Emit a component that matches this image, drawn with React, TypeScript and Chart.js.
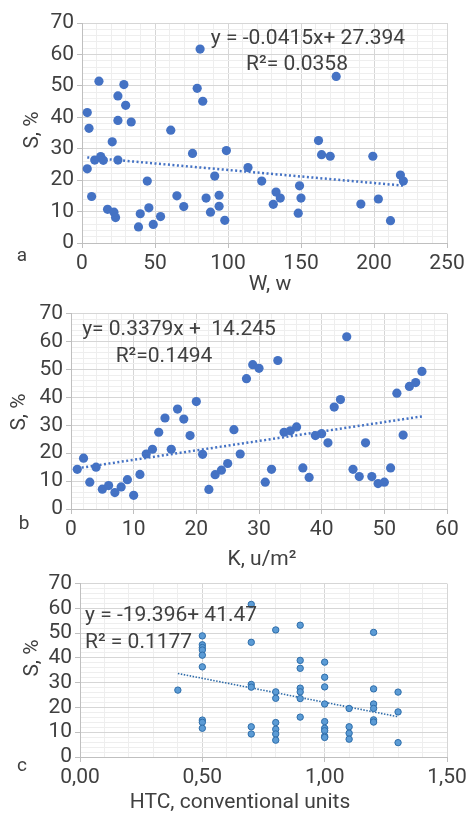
import React, { useEffect, useRef } from 'react';
import { Chart, registerables } from 'chart.js';

Chart.register(...registerables);

// ---------- Data ----------
// Panel a: S (%) vs W (w)
const wValues = [3.6, 4.8, 3.6, 6.6, 8.7, 11.6, 12.8, 14.6, 17.5, 20.7, 21.9, 23.0, 24.6, 24.6, 24.6, 28.7, 29.9, 33.7, 38.7, 39.9, 44.7, 45.8, 48.8, 53.8, 60.8, 65.0, 69.7, 75.7, 78.9, 80.9, 82.7, 85.0, 88.0, 90.9, 93.9, 93.9, 97.8, 98.9, 113.7, 123.1, 131.0, 132.9, 135.8, 148.1, 149.0, 150.0, 162.0, 164.1, 170.0, 174.1, 191.0, 199.2, 203.0, 211.3, 218.1, 220.1];
const sByW = [41.5, 36.5, 23.6, 14.8, 26.4, 51.5, 27.5, 26.3, 10.7, 32.2, 9.8, 8.1, 46.8, 39.0, 26.4, 50.4, 43.8, 38.5, 5.1, 9.3, 19.7, 11.2, 5.9, 8.4, 35.9, 15.0, 11.6, 28.5, 49.2, 61.7, 45.1, 14.3, 9.8, 21.3, 15.2, 11.7, 7.2, 29.4, 24.0, 19.7, 12.3, 16.2, 14.3, 9.5, 18.2, 14.3, 32.6, 28.1, 27.6, 53.0, 12.4, 27.6, 14.0, 7.1, 21.6, 19.7];
const trendWx = [3.6, 220];
const trendWy = [27.24, 18.26];

// Panel b: S (%) vs K (u/m2)
const kValues = [1, 2, 3, 4, 5, 6, 7, 8, 9, 10, 11, 12, 13, 14, 15, 16, 17, 18, 19, 20, 21, 22, 23, 24, 25, 26, 27, 28, 29, 30, 31, 32, 33, 34, 35, 36, 37, 38, 39, 40, 41, 42, 43, 44, 45, 46, 47, 48, 49, 50, 51, 52, 53, 54, 55, 56];
const sByK = [14.2, 18.2, 9.6, 15.0, 7.1, 8.4, 5.9, 7.9, 10.5, 4.9, 12.4, 19.7, 21.4, 27.5, 32.6, 21.4, 35.8, 32.2, 26.3, 38.5, 19.6, 7.0, 12.3, 13.9, 16.3, 28.4, 19.7, 46.7, 51.7, 50.4, 9.6, 14.2, 53.2, 27.5, 28.0, 29.4, 14.7, 11.3, 26.3, 27.0, 23.7, 36.5, 39.2, 61.7, 14.2, 11.6, 23.7, 11.6, 9.1, 9.6, 14.7, 41.5, 26.5, 43.9, 45.3, 49.3];
const trendKx = [1, 56];
const trendKy = [14.58, 33.17];

// Panel c: S (%) vs HTC
const htcValues = [0.4,
  0.5, 0.5, 0.5, 0.5, 0.5, 0.5, 0.5, 0.5, 0.5,
  0.7, 0.7, 0.7, 0.7, 0.7, 0.7,
  0.8, 0.8, 0.8, 0.8, 0.8, 0.8, 0.8,
  0.9, 0.9, 0.9, 0.9, 0.9, 0.9, 0.9,
  1.0, 1.0, 1.0, 1.0, 1.0, 1.0, 1.0, 1.0, 1.0,
  1.1, 1.1, 1.1, 1.1,
  1.2, 1.2, 1.2, 1.2, 1.2, 1.2,
  1.3, 1.3, 1.3];
const sByHtc = [27.0,
  48.9, 45.3, 44.2, 43.2, 41.1, 36.4, 14.9, 14.0, 11.6,
  61.6, 46.3, 29.3, 28.2, 12.2, 9.3,
  51.3, 26.3, 23.7, 13.9, 11.2, 9.3, 6.8,
  53.2, 39.0, 35.8, 27.8, 26.3, 23.6, 16.1,
  38.3, 32.2, 28.3, 21.4, 14.3, 11.6, 10.6, 8.4, 7.9,
  19.6, 12.2, 9.6, 7.2,
  50.3, 27.5, 21.4, 19.6, 15.0, 14.1,
  26.2, 18.2, 5.8];
const trendHx = [0.4, 1.3];
const trendHy = [33.71, 16.26];

const yAxisTitle = 'S, %';
const eqA = ['y = -0.0415x+ 27.394', 'R²= 0.0358'];
const eqB = ['y= 0.3379x +  14.245', 'R²=0.1494'];
const eqC = ['y = -19.396+ 41.47', 'R² = 0.1177'];

// ---------- Helpers ----------
const FONT = 'Roboto';
const TEXT = '#404040';

const isMajor = (v: number, major: number) => {
  const r = v / major;
  return Math.abs(r - Math.round(r)) < 1e-6;
};

type Note = { text: string; x: number; y: number; size: number; align?: CanvasTextAlign; rotate?: boolean };

const notesPlugin = {
  id: 'notes',
  afterDraw(chart: any, _args: any, opts: any) {
    const ctx = chart.ctx as CanvasRenderingContext2D;
    (opts.items || []).forEach((n: Note) => {
      ctx.save();
      ctx.font = `${n.size}px ${FONT}`;
      ctx.fillStyle = TEXT;
      ctx.textAlign = n.align || 'center';
      ctx.textBaseline = 'middle';
      ctx.translate(n.x, n.y);
      if (n.rotate) ctx.rotate(-Math.PI / 2);
      ctx.fillText(n.text, 0, 0);
      ctx.restore();
    });
  },
};

function axis(min: number, max: number, minor: number, major: number, fmt: (v: number) => string, fit: (s: any) => void) {
  return {
    type: 'linear',
    min,
    max,
    afterFit: fit,
    ticks: {
      stepSize: minor,
      autoSkip: false,
      maxRotation: 0,
      padding: 3,
      color: TEXT,
      font: { family: FONT, size: 21 },
      callback: (v: number) => (isMajor(v, major) ? fmt(v) : ''),
    },
    grid: {
      color: (c: any) => (c.tick && isMajor(c.tick.value, major) ? '#d6d6d6' : '#eeeeee'),
      tickColor: (c: any) => (c.tick && isMajor(c.tick.value, major) ? '#bfbfbf' : 'rgba(0,0,0,0)'),
      tickLength: 5,
      lineWidth: 1,
    },
    border: { color: '#bfbfbf', width: 1 },
  };
}

type Spec = {
  xs: number[]; ys: number[]; tx: number[]; ty: number[];
  xMin: number; xMax: number; xMinor: number; xMajor: number; xFmt: (v: number) => string;
  padTop: number; padRight: number; yWidth: number; xHeight: number;
  radius: number; pointColor: string; pointBorder: string; pointBorderWidth: number;
  trendColor: string; trendWidth: number; trendDash: number[];
  notes: Note[];
};

function makeConfig(p: Spec): any {
  return {
    type: 'scatter',
    data: {
      datasets: [
        {
          data: p.xs.map((x, i) => ({ x, y: p.ys[i] })),
          backgroundColor: p.pointColor,
          borderColor: p.pointBorder,
          borderWidth: p.pointBorderWidth,
          pointRadius: p.radius,
          pointHoverRadius: p.radius,
        },
        {
          data: p.tx.map((x, i) => ({ x, y: p.ty[i] })),
          showLine: true,
          borderColor: p.trendColor,
          borderWidth: p.trendWidth,
          borderDash: p.trendDash,
          pointRadius: 0,
          fill: false,
        },
      ],
    },
    options: {
      responsive: false,
      animation: false,
      events: [],
      layout: { padding: { top: p.padTop, right: p.padRight, left: 0, bottom: 0 } },
      plugins: {
        legend: { display: false },
        tooltip: { enabled: false },
        notes: { items: p.notes },
      },
      scales: {
        x: axis(p.xMin, p.xMax, p.xMinor, p.xMajor, p.xFmt, (s: any) => { s.height = p.xHeight; }),
        y: axis(0, 70, 2, 10, (v) => String(v), (s: any) => { s.width = p.yWidth; }),
      },
    },
    plugins: [notesPlugin],
  };
}

function Panel({ spec, top, height }: { spec: Spec; top: number; height: number }) {
  const ref = useRef<HTMLCanvasElement>(null);
  useEffect(() => {
    if (!ref.current) return;
    const chart = new Chart(ref.current, makeConfig(spec));
    return () => chart.destroy();
  }, []);
  return (
    <div style={{ position: 'absolute', left: 0, top, width: 474, height }}>
      <canvas ref={ref} width={474} height={height} style={{ width: 474, height, display: 'block' }} />
    </div>
  );
}

const blueA = '#4472C4';

const specA: Spec = {
  xs: wValues, ys: sByW, tx: trendWx, ty: trendWy,
  xMin: 0, xMax: 250, xMinor: 10, xMajor: 50, xFmt: (v) => String(v),
  padTop: 23, padRight: 27, yWidth: 82, xHeight: 55,
  radius: 4.6, pointColor: blueA, pointBorder: blueA, pointBorderWidth: 0,
  trendColor: blueA, trendWidth: 2.5, trendDash: [2, 2.5],
  notes: [
    { text: yAxisTitle, x: 33, y: 130, size: 21, rotate: true },
    { text: 'W, w', x: 270, y: 285, size: 21 },
    { text: 'a', x: 22, y: 256, size: 19 },
    { text: eqA[0], x: 308, y: 39, size: 21 },
    { text: eqA[1], x: 297, y: 65, size: 21 },
  ],
};

const specB: Spec = {
  xs: kValues, ys: sByK, tx: trendKx, ty: trendKy,
  xMin: 0, xMax: 60, xMinor: 2, xMajor: 10, xFmt: (v) => String(v),
  padTop: 14, padRight: 27, yWidth: 71, xHeight: 59,
  radius: 4.6, pointColor: blueA, pointBorder: blueA, pointBorderWidth: 0,
  trendColor: blueA, trendWidth: 2.5, trendDash: [2, 2.5],
  notes: [
    { text: yAxisTitle, x: 20, y: 114, size: 21, rotate: true },
    { text: 'K, u/m²', x: 262, y: 262, size: 21 },
    { text: 'b', x: 24, y: 226, size: 19 },
    { text: eqB[0], x: 179, y: 32, size: 21 },
    { text: eqB[1], x: 164, y: 59, size: 21 },
  ],
};

const specC: Spec = {
  xs: htcValues, ys: sByHtc, tx: trendHx, ty: trendHy,
  xMin: 0, xMax: 1.5, xMinor: 0.1, xMajor: 0.5, xFmt: (v) => v.toFixed(2).replace('.', ','),
  padTop: 12, padRight: 27, yWidth: 80, xHeight: 57,
  radius: 3.2, pointColor: '#5B9BD5', pointBorder: '#2F6EAA', pointBorderWidth: 1,
  trendColor: '#2E6BA8', trendWidth: 1.6, trendDash: [1.5, 1.5],
  notes: [
    { text: yAxisTitle, x: 33, y: 90, size: 21, rotate: true },
    { text: 'HTC, conventional units', x: 240, y: 235, size: 21 },
    { text: 'c', x: 22, y: 198, size: 19 },
    { text: eqC[0], x: 85, y: 48, size: 21, align: 'left' },
    { text: eqC[1], x: 85, y: 75, size: 21, align: 'left' },
  ],
};

export default function App() {
  return (
    <div style={{ position: 'absolute', left: 0, top: 0, width: 474, height: 814, background: '#ffffff' }}>
      <Panel spec={specA} top={0} height={298} />
      <Panel spec={specB} top={298} height={270} />
      <Panel spec={specC} top={568} height={246} />
    </div>
  );
}
